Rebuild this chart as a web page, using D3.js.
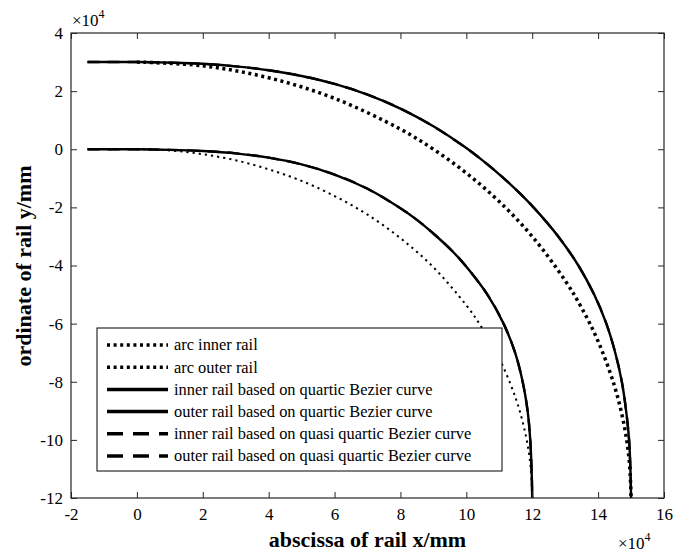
<!DOCTYPE html>
<html>
<head>
<meta charset="utf-8">
<script src="https://cdn.jsdelivr.net/npm/d3@7"></script>
<style>
  body { margin: 0; background: #fff; }
  svg { display: block; }
</style>
</head>
<body>
<div id="chart"></div>
<script>
// Values in units of 10^4 mm
const xTicks = [-2, 0, 2, 4, 6, 8, 10, 12, 14, 16];
const yTicks = [-12, -10, -8, -6, -4, -2, 0, 2, 4];

const arcInner = [
  [0, 0], [1, -0.04], [2, -0.17], [3, -0.38], [4, -0.69], [5, -1.09], [6, -1.61],
  [7, -2.25], [8, -3.06], [9, -4.06], [10, -5.37], [10.5, -6.19], [11, -7.2],
  [11.5, -8.57], [11.8, -9.82], [11.95, -10.91], [12, -12]
];
const arcOuter = [
  [0, 3], [2, 2.87], [4, 2.46], [6, 1.75], [8, 0.69], [9, 0], [10, -0.82],
  [11, -1.8], [12, -3], [13, -4.52], [13.5, -5.46], [14, -6.61], [14.5, -8.16],
  [14.8, -9.56], [14.95, -10.78], [15, -12]
];
const bezierInner = [
  [-1.5, 0], [0, 0], [1, -0.02], [2, -0.06], [3, -0.14], [4, -0.29], [5, -0.52],
  [6, -0.87], [7, -1.36], [8, -2.03], [8.5, -2.43], [9.05, -2.95], [9.57, -3.5],
  [9.97, -4], [10.64, -5], [11.13, -6], [11.48, -7], [11.71, -8], [11.86, -9],
  [11.94, -10], [11.98, -11], [12, -12], [12, -13.5]
];
const bezierOuter = [
  [-1.5, 3], [0, 3], [1, 2.98], [2, 2.94], [3, 2.85], [4, 2.72], [5, 2.52],
  [6, 2.25], [7, 1.88], [8, 1.4], [9, 0.79], [10, 0.04], [10.5, -0.39],
  [11.07, -0.93], [11.61, -1.5], [12.04, -2], [12.79, -3], [13.4, -4], [13.88, -5],
  [14.25, -6], [14.52, -7], [14.72, -8], [14.85, -9], [14.94, -10], [14.98, -11],
  [15, -12], [15, -13.5]
];
// quasi quartic curves lie on top of the quartic ones at this scale
const quasiInner = bezierInner;
const quasiOuter = bezierOuter;

const legendNames = [
  'arc inner rail',
  'arc outer rail',
  'inner rail based on quartic Bezier curve',
  'outer rail based on quartic Bezier curve',
  'inner rail based on quasi quartic Bezier curve',
  'outer rail based on quasi quartic Bezier curve'
];

const W = 673, H = 554;
const plot = { left: 71, right: 664, top: 33, bottom: 498 };
const serif = '"Liberation Serif", "Times New Roman", serif';

const svg = d3.select('#chart').append('svg')
  .attr('width', W)
  .attr('height', H)
  .style('font-family', serif);

const x = d3.scaleLinear().domain([-2, 16]).range([plot.left, plot.right]);
const y = d3.scaleLinear().domain([-12, 4]).range([plot.bottom, plot.top]);

svg.append('defs').append('clipPath').attr('id', 'clip')
  .append('rect')
  .attr('x', plot.left).attr('y', plot.top)
  .attr('width', plot.right - plot.left).attr('height', plot.bottom - plot.top);

// Series
const line = d3.line()
  .x(d => x(d[0]))
  .y(d => y(d[1]))
  .curve(d3.curveCatmullRom.alpha(0.5));

const series = [
  { data: arcInner, width: 2, dash: '2.2,4' },
  { data: arcOuter, width: 3.5, dash: '3,3.6' },
  { data: bezierInner, width: 2.4, dash: null },
  { data: bezierOuter, width: 2.4, dash: null },
  { data: quasiInner, width: 2.4, dash: '12,8' },
  { data: quasiOuter, width: 2.4, dash: '12,8' }
];

const lines = svg.append('g').attr('clip-path', 'url(#clip)');
series.forEach(s => {
  lines.append('path')
    .datum(s.data)
    .attr('d', line)
    .attr('fill', 'none')
    .attr('stroke', '#000')
    .attr('stroke-width', s.width)
    .attr('stroke-dasharray', s.dash);
});

// Axes (ticks point inward, box on all four sides)
const axisColor = '#262626';
const fmt = d => String(d);
const styleAxis = g => {
  g.attr('font-family', serif).attr('font-size', 17);
  g.select('.domain').remove();
  g.selectAll('.tick line').attr('stroke', axisColor).attr('stroke-width', 1);
  g.selectAll('.tick text').attr('fill', '#000');
};

svg.append('g')
  .attr('transform', `translate(0,${plot.bottom})`)
  .call(d3.axisBottom(x).tickValues(xTicks).tickFormat(fmt).tickSizeInner(-6).tickSizeOuter(0).tickPadding(10))
  .call(styleAxis);
svg.append('g')
  .attr('transform', `translate(0,${plot.top})`)
  .call(d3.axisTop(x).tickValues(xTicks).tickSizeInner(-6).tickSizeOuter(0).tickFormat(''))
  .call(styleAxis);
svg.append('g')
  .attr('transform', `translate(${plot.left},0)`)
  .call(d3.axisLeft(y).tickValues(yTicks).tickFormat(fmt).tickSizeInner(-6).tickSizeOuter(0).tickPadding(8))
  .call(styleAxis);
svg.append('g')
  .attr('transform', `translate(${plot.right},0)`)
  .call(d3.axisRight(y).tickValues(yTicks).tickSizeInner(-6).tickSizeOuter(0).tickFormat(''))
  .call(styleAxis);

svg.append('rect')
  .attr('x', plot.left).attr('y', plot.top)
  .attr('width', plot.right - plot.left).attr('height', plot.bottom - plot.top)
  .attr('fill', 'none')
  .attr('stroke', axisColor)
  .attr('stroke-width', 1.2);

// Exponent labels
const expLabel = (px, py) => {
  const t = svg.append('text').attr('x', px).attr('y', py)
    .style('font-size', '17px').attr('fill', '#000');
  t.append('tspan').text('×10');
  t.append('tspan').attr('dy', -8).style('font-size', '12px').text('4');
};
expLabel(72, 26);
expLabel(618, 549);

// Axis titles
svg.append('text')
  .attr('x', (plot.left + plot.right) / 2)
  .attr('y', 547)
  .attr('text-anchor', 'middle')
  .style('font-size', '22px')
  .style('font-weight', 'bold')
  .text('abscissa of rail x/mm');

svg.append('text')
  .attr('transform', 'translate(31,266) rotate(-90)')
  .attr('text-anchor', 'middle')
  .style('font-size', '22px')
  .style('font-weight', 'bold')
  .text('ordinate of rail y/mm');

// Legend
const legend = svg.append('g');
legend.append('rect')
  .attr('x', 97).attr('y', 328)
  .attr('width', 405).attr('height', 143)
  .attr('fill', '#fff')
  .attr('stroke', '#000')
  .attr('stroke-width', 1);

const legendDash = ['3,3.6', '3,3.6', null, null, '16,10', '16,10'];
const rowY = d3.scaleLinear().domain([0, 5]).range([345, 456]);

legendNames.forEach((name, i) => {
  legend.append('line')
    .attr('x1', 107).attr('x2', 168)
    .attr('y1', rowY(i)).attr('y2', rowY(i))
    .attr('stroke', '#000')
    .attr('stroke-width', 3.5)
    .attr('stroke-dasharray', legendDash[i]);
  legend.append('text')
    .attr('x', 174)
    .attr('y', rowY(i))
    .attr('dy', '0.33em')
    .style('font-size', '16.4px')
    .attr('fill', '#000')
    .text(name);
});
</script>
</body>
</html>
